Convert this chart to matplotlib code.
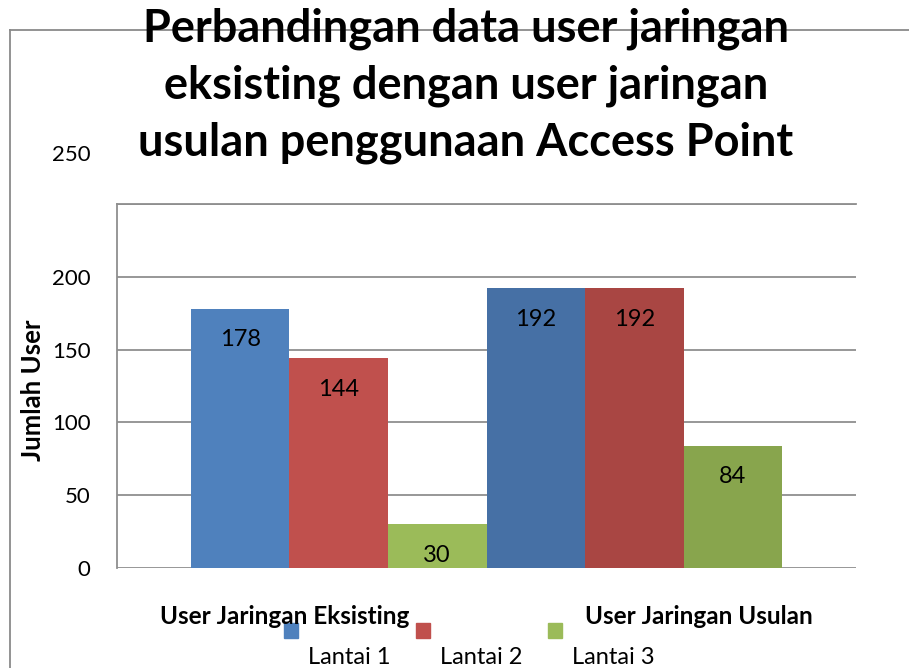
import matplotlib
matplotlib.use("Agg")
import matplotlib.pyplot as plt
from matplotlib.transforms import ScaledTranslation
from matplotlib.patches import Rectangle
from matplotlib.lines import Line2D

plt.rcParams['font.family'] = ['Lato', 'DejaVu Sans']

# ---- data ----
categories = ["User Jaringan Eksisting", "User Jaringan Usulan"]
series = ["Lantai 1", "Lantai 2", "Lantai 3"]
lantai1 = [178, 192]
lantai2 = [144, 192]
lantai3 = [30, 84]
yticks = [0, 50, 100, 150, 200, 250]
title = "Perbandingan data user jaringan\neksisting dengan user jaringan\nusulan penggunaan Access Point"
ylabel = "Jumlah User"

# ---- style ----
colors_group = [
    ["#4f81bd", "#c0504d", "#9bbb59"],
    ["#4670a5", "#a94643", "#88a54d"],
]
legend_colors = ["#4f81bd", "#c0504d", "#9bbb59"]
grid_color = "#8f8f8f"

W, H = 909, 668
fig = plt.figure(figsize=(W / 100, H / 100), dpi=100)
ax = fig.add_axes([117 / W, 1 - 568 / H, (856 - 117) / W, (568 - 204) / H])

values = [lantai1, lantai2, lantai3]
nser = len(series)
for g in range(len(categories)):
    for s in range(nser):
        x = g * nser + s
        v = values[s][g]
        ax.bar(x, v, width=1.0, color=colors_group[g][s], zorder=3, linewidth=0)
        ax.annotate(str(v), (x, v), xytext=(0, -31), textcoords="offset pixels",
                    ha="center", va="center", fontsize=17, color="black", zorder=4)

ax.set_xlim(-1.25, 6.25)
ax.set_ylim(0, 250)
ax.set_yticks(yticks)
ax.set_yticklabels([str(t) for t in yticks], fontsize=16)
ax.set_xticks([])
ax.tick_params(axis="y", length=0, pad=19)
ax.yaxis.grid(True, color=grid_color, linewidth=1.3, zorder=0)
for sp in ["right", "bottom"]:
    ax.spines[sp].set_visible(False)
ax.spines["left"].set_color(grid_color)
ax.spines["left"].set_linewidth(1.3)
ax.spines["top"].set_color(grid_color)
ax.spines["top"].set_linewidth(1.3)

# top tick label sits higher in the reference
lab = ax.get_yticklabels()[-1]
lab.set_transform(lab.get_transform() + ScaledTranslation(0, 0.51, fig.dpi_scale_trans))

# y-axis title
fig.text(33 / W, 1 - 390 / H, ylabel, rotation=90, ha="center", va="center",
         fontsize=18.5, fontweight="bold")

# outer chart border (left and top only visible)
fig.add_artist(Line2D([10 / W, 10 / W], [0, 1 - 30 / H], color="#8a8a8a", lw=1.3, zorder=0))
fig.add_artist(Line2D([10 / W, 1], [1 - 30 / H, 1 - 30 / H], color="#8a8a8a", lw=1.3, zorder=0))

# title
fig.text(466 / W, 1 - 8 / H, title, ha="center", va="top", fontsize=32.5,
         fontweight="bold", linespacing=1.42, zorder=5)

# category labels
cat_x = [285, 699]
for cx, c in zip(cat_x, categories):
    fig.text(cx / W, 1 - 617 / H, c, ha="center", va="center", fontsize=17.5,
             fontweight="bold", zorder=5)

# legend (manual, Excel-like wrapped layout)
leg_x = [284, 416, 548]
for lx, name, col in zip(leg_x, series, legend_colors):
    fig.add_artist(Rectangle((lx / W, 1 - 638 / H), 14 / W, 15 / H, color=col,
                             transform=fig.transFigure, zorder=4))
    fig.text((lx + 24) / W, 1 - 658 / H, name, ha="left", va="center", fontsize=17)

fig.savefig("out.png", dpi=100)
